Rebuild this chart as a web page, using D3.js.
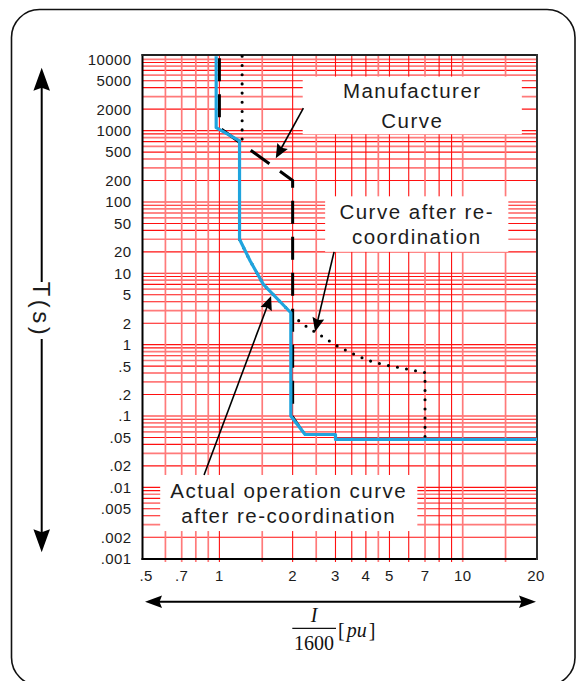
<!DOCTYPE html>
<html>
<head>
<meta charset="utf-8">
<script src="https://cdn.jsdelivr.net/npm/d3@7"></script>
<style>
  html, body { margin: 0; padding: 0; background: #fff; }
  svg { display: block; }
</style>
</head>
<body>
<svg id="chart" width="582" height="681"></svg>
<script>
// ---- Axis ticks (current in pu of 1600 A, time in seconds) ----
const xTickValues = [0.5, 0.7, 1, 2, 3, 4, 5, 7, 10, 20];
const xTickLabels = [".5", ".7", "1", "2", "3", "4", "5", "7", "10", "20"];
const yTickValues = [10000, 5000, 2000, 1000, 500, 200, 100, 50, 20, 10, 5, 2, 1,
                     0.5, 0.2, 0.1, 0.05, 0.02, 0.01, 0.005, 0.002, 0.001];
const yTickLabels = ["10000", "5000", "2000", "1000", "500", "200", "100", "50", "20", "10", "5", "2", "1",
                     ".5", ".2", ".1", ".05", ".02", ".01", ".005", ".002", ".001"];

// ---- Log-paper grid ----
const xGridValues = [0.6, 0.7, 0.8, 0.9, 1, 1.5, 2, 2.5, 3, 3.5, 4, 4.5, 5, 6, 7, 8, 9, 10, 15];
const xGridStrong = [false, false, false, false, true, false, true, false, true, true, true, false, true, true, false, true, true, false, false];
const yGridDecades = [-3, -2, -1, 0, 1, 2, 3];
const yGridMultipliers = [1, 2, 3, 4, 5, 6, 7, 8, 9];
const yGridStrong = [true, true, false, true, true, false, true, false, true];

// ---- Curves ----
// Manufacturer characteristic (long dashes)
const manufacturerI = [1.0, 1.0, 2.0, 2.0];
const manufacturerT = [11000, 1100, 200, 0.1];
// Instantaneous tail of the manufacturer characteristic (thin solid)
const tailI = [2.0, 2.25, 2.77];
const tailT = [0.1, 0.055, 0.055];
// Curve after re-coordination (dotted)
const recoordI = [1.24, 1.24, 1.21, 1.21, 1.337, 1.516, 1.966, 2.10, 2.30, 2.50, 2.68, 2.87, 3.11, 3.42, 3.69, 4.27, 5.06, 5.98, 7.0, 7.0];
const recoordT = [11000, 720, 600, 30, 15, 7, 2.8, 2.22, 1.75, 1.47, 1.27, 1.09, 0.92, 0.79, 0.695, 0.572, 0.50, 0.452, 0.405, 0.05];
// Actual operation curve after re-coordination (blue)
const actualI = [0.97, 0.97, 1.21, 1.21, 1.337, 1.516, 1.966, 1.966, 2.25, 3.0, 3.0, 20.2];
const actualT = [11000, 1100, 720, 30, 15, 7, 2.8, 0.1, 0.055, 0.055, 0.047, 0.047];

// ---- Callouts: label boxes and pointers, anchored in (I, t) ----
const noteBoxes = [
  { lines: ["Manufacturer", "Curve"], i: [2.2, 17.5], t: [5720, 891], lead: 30 },
  { lines: ["Curve after re-", "coordination"], i: [2.72, 15.4], t: [120, 20], lead: 25 },
  { lines: ["Actual operation curve", "after re-coordination"], i: [0.571, 6.51], t: [0.0149, 0.00244], lead: 25 }
];
const notePointers = [
  { from: [2.214, 2060], to: [1.705, 410] },
  { from: [2.96, 20], to: [2.474, 1.52] },
  { from: [0.865, 0.0149], to: [1.631, 4.82] }
];

// ---- Layout ----
const plot = { left: 142.5, top: 55, right: 537, bottom: 559 };
const svg = d3.select("#chart");

const x = d3.scaleLog().domain([0.483, 20.2]).range([plot.left, plot.right]);
const y = d3.scaleLog().domain([0.00099, 11480]).range([plot.bottom, plot.top]);

const sansFont = "'Liberation Sans', Arial, sans-serif";
const serifFont = "'Liberation Serif', 'Times New Roman', serif";
const textColor = "#1c1c1c";

// Page background and rounded outer frame
svg.append("rect").attr("width", 582).attr("height", 681).attr("fill", "#fff");
svg.append("rect")
  .attr("x", 11.5).attr("y", 9.5).attr("width", 563.5).attr("height", 676)
  .attr("rx", 28).attr("ry", 28)
  .attr("fill", "none").attr("stroke", "#111").attr("stroke-width", 1.6);

// Clip for plotted marks
svg.append("defs").append("clipPath").attr("id", "plotClip")
  .append("rect")
  .attr("x", plot.left).attr("y", plot.top)
  .attr("width", plot.right - plot.left).attr("height", plot.bottom - plot.top);

// Grid
const grid = svg.append("g");
const strongRed = "#ff1010";
const lightRed = "#ff7a7a";

const yGrid = [];
yGridDecades.forEach(k => {
  yGridMultipliers.forEach((m, j) => {
    yGrid.push({ v: m * Math.pow(10, k), strong: yGridStrong[j] });
  });
});
yGrid.push({ v: 10000, strong: false });

grid.selectAll("line.h").data(yGrid).join("line")
  .attr("class", "h")
  .attr("x1", plot.left).attr("x2", plot.right)
  .attr("y1", d => y(d.v)).attr("y2", d => y(d.v))
  .attr("stroke", d => d.strong ? strongRed : lightRed)
  .attr("stroke-width", d => d.strong ? 1.1 : 1.7);

grid.selectAll("line.v").data(xGridValues).join("line")
  .attr("class", "v")
  .attr("x1", d => x(d)).attr("x2", d => x(d))
  .attr("y1", plot.top).attr("y2", plot.bottom + 3)
  .attr("stroke", (d, i) => xGridStrong[i] ? strongRed : lightRed)
  .attr("stroke-width", (d, i) => xGridStrong[i] ? 1.1 : 1.7);

// Plot frame
const frame = svg.append("g").attr("fill", "none");
frame.append("line").attr("x1", plot.left).attr("x2", plot.left).attr("y1", plot.top - 1).attr("y2", plot.bottom + 1)
  .attr("stroke", "#000").attr("stroke-width", 2);
frame.append("line").attr("x1", plot.left - 1).attr("x2", plot.right + 1).attr("y1", plot.bottom).attr("y2", plot.bottom)
  .attr("stroke", "#000").attr("stroke-width", 2);
frame.append("line").attr("x1", plot.left - 1).attr("x2", plot.right + 1).attr("y1", plot.top).attr("y2", plot.top)
  .attr("stroke", "#222").attr("stroke-width", 2);
frame.append("line").attr("x1", plot.right).attr("x2", plot.right).attr("y1", plot.top - 1).attr("y2", plot.bottom + 1)
  .attr("stroke", "#333").attr("stroke-width", 2);

// Curves
const toPoints = (is, ts) => is.map((v, k) => [v, ts[k]]);
const line = d3.line().x(d => x(d[0])).y(d => y(d[1]));
const curves = svg.append("g").attr("clip-path", "url(#plotClip)")
  .attr("fill", "none").attr("stroke-linejoin", "round");

curves.append("path")
  .attr("d", line(toPoints(manufacturerI, manufacturerT)))
  .attr("stroke", "#000").attr("stroke-width", 3)
  .attr("stroke-dasharray", "23,13").attr("stroke-dashoffset", -2);

curves.append("path")
  .attr("d", line(toPoints(tailI, tailT)))
  .attr("stroke", "#000").attr("stroke-width", 2);

curves.append("path")
  .attr("d", line(toPoints(recoordI, recoordT)))
  .attr("stroke", "#000").attr("stroke-width", 3.1)
  .attr("stroke-linecap", "round").attr("stroke-dasharray", "0,9.2");

curves.append("path")
  .attr("d", line(toPoints(actualI, actualT)))
  .attr("stroke", "#1fa4de").attr("stroke-width", 3.2);

// Callout boxes (they mask the grid beneath)
const notes = svg.append("g");
noteBoxes.forEach(b => {
  const x0 = x(b.i[0]), x1 = x(b.i[1]);
  const y0 = y(b.t[0]), y1 = y(b.t[1]);
  notes.append("rect")
    .attr("x", x0).attr("y", y0).attr("width", x1 - x0).attr("height", y1 - y0)
    .attr("fill", "#fff");
  const cx = (x0 + x1) / 2, cy = (y0 + y1) / 2;
  const n = b.lines.length;
  b.lines.forEach((txt, k) => {
    notes.append("text")
      .attr("x", cx).attr("y", cy + (k - (n - 1) / 2) * b.lead)
      .attr("dy", "0.36em")
      .attr("text-anchor", "middle")
      .attr("font-family", sansFont).attr("font-size", 20.5)
      .attr("letter-spacing", 1.5)
      .attr("fill", textColor)
      .text(txt);
  });
});

// Arrow head helper: filled head with a slight notch at the back
function arrowHead(tip, from, len, halfW, notch) {
  const dx = tip[0] - from[0], dy = tip[1] - from[1];
  const L = Math.hypot(dx, dy);
  const ux = dx / L, uy = dy / L;
  const px = -uy, py = ux;
  const bx = tip[0] - ux * len, by = tip[1] - uy * len;
  const nx = tip[0] - ux * (len - notch), ny = tip[1] - uy * (len - notch);
  return `M${tip[0]},${tip[1]}L${bx + px * halfW},${by + py * halfW}L${nx},${ny}L${bx - px * halfW},${by - py * halfW}Z`;
}

notePointers.forEach(p => {
  const a = [x(p.from[0]), y(p.from[1])];
  const b = [x(p.to[0]), y(p.to[1])];
  const L = Math.hypot(b[0] - a[0], b[1] - a[1]);
  const stop = [b[0] - (b[0] - a[0]) / L * 8, b[1] - (b[1] - a[1]) / L * 8];
  notes.append("line")
    .attr("x1", a[0]).attr("y1", a[1]).attr("x2", stop[0]).attr("y2", stop[1])
    .attr("stroke", "#000").attr("stroke-width", 1.6);
  notes.append("path").attr("d", arrowHead(b, a, 14, 6, 2)).attr("fill", "#000");
});

// Tick labels
const axes = svg.append("g").attr("font-family", sansFont).attr("fill", textColor);
axes.selectAll("text.yl").data(yTickValues).join("text")
  .attr("class", "yl")
  .attr("x", plot.left - 11)
  .attr("y", d => y(d))
  .attr("dy", "0.36em")
  .attr("text-anchor", "end")
  .attr("font-size", 15)
  .attr("letter-spacing", 0.4)
  .text((d, i) => yTickLabels[i]);

axes.selectAll("text.xl").data(xTickValues).join("text")
  .attr("class", "xl")
  .attr("x", d => x(d))
  .attr("y", plot.bottom + 17)
  .attr("dy", "0.36em")
  .attr("text-anchor", "middle")
  .attr("font-size", 15)
  .attr("letter-spacing", 0.4)
  .text((d, i) => xTickLabels[i]);

// Vertical double arrow with T(s)
const yArrowX = 41.7;
const yMid = (plot.top + plot.bottom) / 2 + 3;
const yTop = 67.7, yBot = 2 * yMid - 67.7;
svg.append("line").attr("x1", yArrowX).attr("x2", yArrowX).attr("y1", yTop + 18).attr("y2", yMid - 28)
  .attr("stroke", "#000").attr("stroke-width", 2);
svg.append("line").attr("x1", yArrowX).attr("x2", yArrowX).attr("y1", yMid + 29).attr("y2", yBot - 18)
  .attr("stroke", "#000").attr("stroke-width", 2);
svg.append("path").attr("d", arrowHead([yArrowX, yTop], [yArrowX, yMid], 23, 8.3, 3)).attr("fill", "#000");
svg.append("path").attr("d", arrowHead([yArrowX, yBot], [yArrowX, yMid], 23, 8.3, 3)).attr("fill", "#000");
svg.append("text")
  .attr("transform", `translate(${yArrowX},${yMid}) rotate(90)`)
  .attr("text-anchor", "middle").attr("dy", "0.36em")
  .attr("font-family", sansFont).attr("font-size", 24)
  .attr("letter-spacing", 3.5)
  .attr("fill", textColor)
  .text("T(s)");

// Horizontal double arrow with I/1600 [pu]
const xArrowY = 601.7;
const xl = 145, xr = 536;
svg.append("line").attr("x1", xl + 14).attr("x2", xr - 14).attr("y1", xArrowY).attr("y2", xArrowY)
  .attr("stroke", "#000").attr("stroke-width", 2);
svg.append("path").attr("d", arrowHead([xl, xArrowY], [xr, xArrowY], 17, 6.3, 2.5)).attr("fill", "#000");
svg.append("path").attr("d", arrowHead([xr, xArrowY], [xl, xArrowY], 17, 6.3, 2.5)).attr("fill", "#000");

const fracX = 314;
const unit = svg.append("g").attr("font-family", serifFont).attr("fill", "#111");
unit.append("text").attr("x", fracX).attr("y", 621.5).attr("text-anchor", "middle")
  .attr("font-size", 20).attr("font-style", "italic").text("I");
unit.append("line").attr("x1", fracX - 21.7).attr("x2", fracX + 22).attr("y1", 628.3).attr("y2", 628.3)
  .attr("stroke", "#111").attr("stroke-width", 1.3);
unit.append("text").attr("x", fracX).attr("y", 650).attr("text-anchor", "middle")
  .attr("font-size", 20).text("1600");
const pu = unit.append("text").attr("x", fracX + 24).attr("y", 637).attr("font-size", 20);
pu.append("tspan").text("[");
pu.append("tspan").attr("dx", 2).attr("font-style", "italic").text("pu");
pu.append("tspan").attr("dx", 2).text("]");
</script>
</body>
</html>
